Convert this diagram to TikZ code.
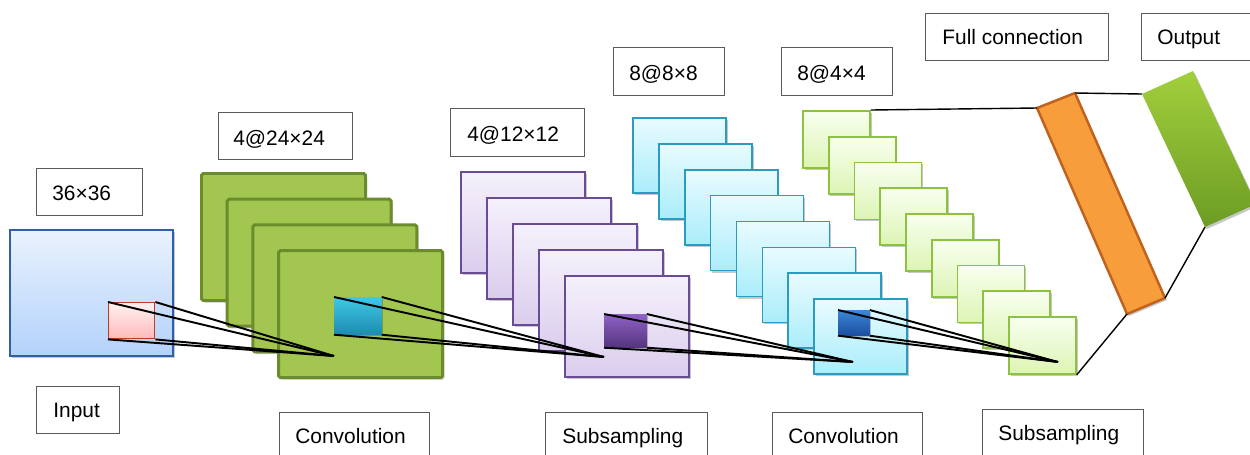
\documentclass[tikz,border=0pt]{standalone}
\usepackage{fontspec}
\setmainfont{Liberation Sans}
\usetikzlibrary{shadows}
\definecolor{boxgray}{HTML}{5A5A5A}
\definecolor{inTop}{HTML}{EAF2FE}
\definecolor{inBot}{HTML}{B3D2FA}
\definecolor{inBorder}{HTML}{2F5FA6}
\definecolor{redTop}{HTML}{FFF1F1}
\definecolor{redBot}{HTML}{FFB9B9}
\definecolor{redBorder}{HTML}{C0392B}
\definecolor{gFill}{HTML}{A3C650}
\definecolor{gBorder}{HTML}{6B8C2C}
\definecolor{cyTop}{HTML}{40C8E2}
\definecolor{cyBot}{HTML}{1C8CB2}
\definecolor{puTop}{HTML}{F5F1FB}
\definecolor{puBot}{HTML}{DACDED}
\definecolor{puBorder}{HTML}{6A4C96}
\definecolor{dpTop}{HTML}{8E62C6}
\definecolor{dpBot}{HTML}{55347E}
\definecolor{lcTop}{HTML}{E9FBFF}
\definecolor{lcBot}{HTML}{A9EDFA}
\definecolor{lcBorder}{HTML}{2B9BC0}
\definecolor{dbTop}{HTML}{3B87D9}
\definecolor{dbBot}{HTML}{1C4E9E}
\definecolor{lgTop}{HTML}{F8FFEF}
\definecolor{lgBot}{HTML}{DDF4B4}
\definecolor{lgBorder}{HTML}{8CC23F}
\definecolor{orFill}{HTML}{F89D3C}
\definecolor{orBorder}{HTML}{C0621C}
\definecolor{ogTop}{HTML}{A2CF3C}
\definecolor{ogBot}{HTML}{6C9C24}
\tikzset{
  sz/.style 2 args={minimum width=#1*0.02cm, minimum height=#2*0.02cm},
  lbox/.style={draw=boxgray, line width=0.7pt, fill=white, inner sep=0pt, anchor=north west},
  lbl/.style={anchor=base west, inner sep=0pt, font=\fontsize{11.9}{14}\selectfont},
  shd/.style={drop shadow={shadow xshift=1pt, shadow yshift=-1.2pt, opacity=0.22, fill=black}},
  fmap/.style={inner sep=0pt, anchor=north west, shd},
  inmap/.style={fmap, draw=inBorder, line width=1pt, top color=inTop, bottom color=inBot},
  redsq/.style={inner sep=0pt, anchor=north west, draw=redBorder, line width=0.8pt, top color=redTop, bottom color=redBot},
  gmap/.style={fmap, draw=gBorder, line width=1.7pt, fill=gFill, rounded corners=1pt},
  cysq/.style={inner sep=0pt, anchor=north west, top color=cyTop, bottom color=cyBot, shd},
  pmap/.style={fmap, draw=puBorder, line width=1pt, top color=puTop, bottom color=puBot},
  dpsq/.style={inner sep=0pt, anchor=north west, top color=dpTop, bottom color=dpBot, shd},
  cmap/.style={fmap, draw=lcBorder, line width=1pt, top color=lcTop, bottom color=lcBot},
  dbsq/.style={inner sep=0pt, anchor=north west, top color=dbTop, bottom color=dbBot, shd},
  lmap/.style={fmap, draw=lgBorder, line width=1pt, top color=lgTop, bottom color=lgBot},
  rf/.style={black, line width=1.1pt},
  fc/.style={black, line width=0.8pt}
}
\begin{document}
\begin{tikzpicture}[x=0.02cm, y=-0.02cm]
\useasboundingbox (0,0) rectangle (1250,454);
\begin{scope}
\clip (0,0) rectangle (1250,454);

% label boxes
\node[lbox, sz={106}{47}] (b1) at (36,168) {};
\node[lbl] (t1) at (52,200) {36×36};
\node[lbox, sz={83}{47}] (b2) at (36,386) {};
\node[lbl] (t2) at (53,417) {Input};
\node[lbox, sz={134}{47}] (b3) at (218,112) {};
\node[lbl] (t3) at (233,145) {4@24×24};
\node[lbox, sz={150}{60}] (b4) at (279,412) {};
\node[lbl] (t4) at (295,443) {Convolution};
\node[lbox, sz={134}{48}] (b5) at (450,108) {};
\node[lbl] (t5) at (467,141) {4@12×12};
\node[lbox, sz={162}{60}] (b6) at (545,412) {};
\node[lbl] (t6) at (562,443) {Subsampling};
\node[lbox, sz={111}{48}] (b7) at (613,47) {};
\node[lbl] (t7) at (629,80) {8@8×8};
\node[lbox, sz={111}{48}] (b8) at (781,47) {};
\node[lbl] (t8) at (797,80) {8@4×4};
\node[lbox, sz={150}{60}] (b9) at (772,412) {};
\node[lbl] (t9) at (788,443) {Convolution};
\node[lbox, sz={161}{60}] (b10) at (982,409) {};
\node[lbl] (t10) at (998,440) {Subsampling};
\node[lbox, sz={183}{47}] (b11) at (925,13) {};
\node[lbl] (t11) at (942,44) {Full connection};
\node[lbox, sz={120}{47}] (b12) at (1141,13) {};
\node[lbl] (t12) at (1157,44) {Output};

% input
\node[inmap, sz={163}{126}] (input) at (9,229) {};
\node[redsq, sz={46}{36}] (k1) at (108,302) {};

% convolution 1
\foreach \i in {0,...,3}
  \node[gmap, sz={164}{127}] (c1-\i) at ({200+25.7*\i},{172+25.7*\i}) {};
\node[cysq, sz={47}{37}] (k2) at (334,297) {};

% subsampling 1
\foreach \i in {0,...,4}
  \node[pmap, sz={124}{101}] (s1-\i) at ({460+26*\i},{171+26*\i}) {};
\node[dpsq, sz={42}{33}] (k3) at (604,314) {};

% convolution 2
\foreach \i in {0,...,7}
  \node[cmap, sz={93}{75}] (c2-\i) at ({632+25.9*\i},{117+25.9*\i}) {};
\node[dbsq, sz={31}{25}] (k4) at (838,310) {};

% subsampling 2
\foreach \i in {0,...,8}
  \node[lmap, sz={67}{57}] (s2-\i) at ({802+25.75*\i},{110+25.75*\i}) {};

% receptive-field lines
\coordinate (a1) at (334,356);
\coordinate (a2) at (604,357);
\coordinate (a3) at (853,362);
\coordinate (a4) at (1058,362);
\foreach \k/\a in {k1/a1,k2/a2,k3/a3,k4/a4}{
  \draw[rf] (\k.north west) -- (\a);
  \draw[rf] (\k.north east) -- (\a);
  \draw[rf] (\k.south west) -- (\a);
  \draw[rf] (\k.south east) -- (\a);
}

% full connection bar
\coordinate (oTL) at (1037,108);
\coordinate (oTR) at (1075,93);
\coordinate (oBR) at (1165,298);
\coordinate (oBL) at (1127,314);
\draw[fill=orFill, draw=orBorder, line width=1.4pt, line join=round, shd] (oTL) -- (oTR) -- (oBR) -- (oBL) -- cycle;

% output bar
\coordinate (gTL) at (1142,94);
\coordinate (gTR) at (1193,71);
\coordinate (gBR) at (1256,204);
\coordinate (gBL) at (1205,227);
\path[top color=ogTop, bottom color=ogBot, shd] (gTL) -- (gTR) -- (gBR) -- (gBL) -- cycle;

% connections
\draw[fc] (s2-0.north east) -- (oTL);
\draw[fc] (s2-8.south east) -- (oBL);
\draw[fc] (oTR) -- (gTL);
\draw[fc] (oBR) -- (gBL);
\end{scope}
\end{tikzpicture}
\end{document}
